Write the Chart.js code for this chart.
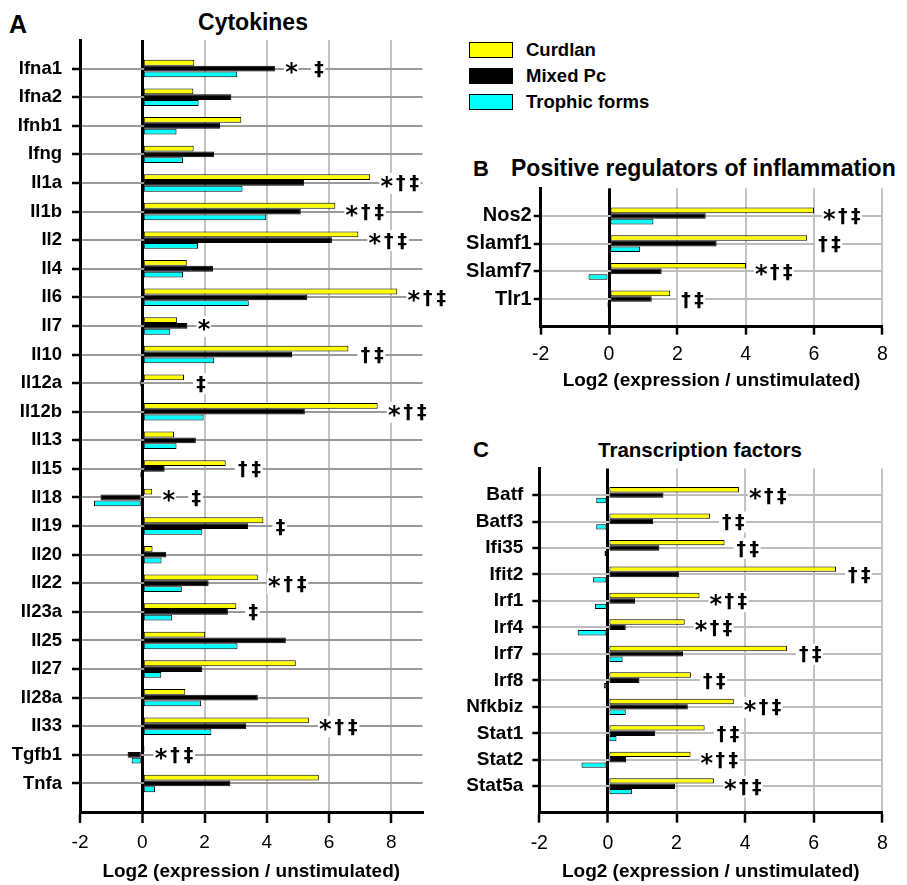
<!DOCTYPE html>
<html><head><meta charset="utf-8">
<script src="https://cdn.jsdelivr.net/npm/chart.js@4.4.1/dist/chart.umd.min.js"></script>
<style>
html,body{margin:0;padding:0;background:#fff;}
body{width:907px;height:885px;position:relative;overflow:hidden;font-family:"Liberation Sans",Arial,Helvetica,sans-serif;}
canvas{position:absolute;}
.t{position:absolute;font-weight:bold;line-height:1;white-space:nowrap;color:#000;}
.leg{position:absolute;box-sizing:border-box;width:44px;height:15.5px;border:1.5px solid #000;}
</style></head><body>
<div class="t" style="left:9px;top:12px;font-size:25px;">A</div>
<div class="t" style="left:153px;top:11px;width:200px;text-align:center;font-size:23px;">Cytokines</div>
<div class="t" style="left:473px;top:158px;font-size:22px;">B</div>
<div class="t" style="left:511px;top:157px;font-size:23px;">Positive regulators of inflammation</div>
<div class="t" style="left:473px;top:439px;font-size:22px;">C</div>
<div class="t" style="left:590px;top:440px;width:220px;text-align:center;font-size:20.5px;">Transcription factors</div>
<div id="legend"></div>
<canvas id="cA" width="465" height="885" style="left:0;top:0"></canvas>
<canvas id="cB" width="467" height="235" style="left:440px;top:160px"></canvas>
<canvas id="cC" width="467" height="445" style="left:440px;top:440px"></canvas>
<script>
// ---------- data ----------
const seriesNames = ['Curdlan', 'Mixed Pc', 'Trophic forms'];
const xTickValues = [-2, 0, 2, 4, 6, 8];
const axisTitle = 'Log2 (expression / unstimulated)';

const cytokineGenes = ['Ifna1','Ifna2','Ifnb1','Ifng','Il1a','Il1b','Il2','Il4','Il6','Il7','Il10','Il12a','Il12b','Il13','Il15','Il18','Il19','Il20','Il22','Il23a','Il25','Il27','Il28a','Il33','Tgfb1','Tnfa'];
const cytokineCurdlan = [1.67,1.64,3.18,1.65,7.32,6.20,6.94,1.43,8.19,1.12,6.62,1.34,7.56,1.02,2.68,0.32,3.89,0.33,3.71,3.02,2.02,4.93,1.38,5.35,0.07,5.67];
const cytokineMixedPc = [4.26,2.86,2.50,2.31,5.20,5.09,6.09,2.27,5.30,1.45,4.81,-0.08,5.22,1.72,0.72,-1.34,3.40,0.77,2.13,2.75,4.61,1.93,3.71,3.34,-0.47,2.83];
const cytokineTrophic = [3.05,1.81,1.10,1.31,3.22,3.98,1.79,1.31,3.42,0.90,2.31,0.03,1.97,1.10,-0.07,-1.55,1.93,0.62,1.27,0.96,3.06,0.61,1.89,2.22,-0.34,0.41];
const cytokineSig = ['* \u2021','','','','*\u2020\u2021','*\u2020\u2021','*\u2020\u2021','','*\u2020\u2021','*','\u2020\u2021','\u2021','*\u2020\u2021','','\u2020\u2021','* \u2021','\u2021','','*\u2020\u2021','\u2021','','','','*\u2020\u2021','*\u2020\u2021',''];

const regulatorGenes = ['Nos2','Slamf1','Slamf7','Tlr1'];
const regulatorCurdlan = [6.00,5.80,4.01,1.79];
const regulatorMixedPc = [2.83,3.15,1.54,1.25];
const regulatorTrophic = [1.30,0.91,-0.60,-0.06];
const regulatorSig = ['*\u2020\u2021','\u2020\u2021','*\u2020\u2021','\u2020\u2021'];

const tfGenes = ['Batf','Batf3','Ifi35','Ifit2','Irf1','Irf4','Irf7','Irf8','Nfkbiz','Stat1','Stat2','Stat5a'];
const tfCurdlan = [3.82,2.98,3.40,6.65,2.67,2.24,5.22,2.42,3.67,2.82,2.41,3.09];
const tfMixedPc = [1.62,1.32,1.50,2.07,0.79,0.52,2.19,0.92,2.33,1.38,0.53,1.96];
const tfTrophic = [-0.34,-0.34,-0.10,-0.44,-0.38,-0.88,0.43,-0.11,0.52,0.25,-0.77,0.70];
const tfSig = ['*\u2020\u2021','\u2020\u2021','\u2020\u2021','\u2020\u2021','*\u2020\u2021','*\u2020\u2021','\u2020\u2021','\u2020\u2021','*\u2020\u2021','\u2020\u2021','*\u2020\u2021','*\u2020\u2021'];

// ---------- styling ----------
const FAMILY = '"Liberation Sans", Arial, Helvetica, sans-serif';
const SYMFAMILY = '"DejaVu Sans", "Liberation Sans", sans-serif';
const seriesColors = ['#ffff00', '#000000', '#00ffff'];
const TRANSPARENT = 'rgba(0,0,0,0)';

// legend (HTML)
(function(){
  const leg = document.getElementById('legend');
  const tops = [42, 68, 94];
  seriesNames.forEach((n, i) => {
    const b = document.createElement('div');
    b.className = 'leg';
    b.style.left = '469px'; b.style.top = tops[i] + 'px'; b.style.background = seriesColors[i];
    leg.appendChild(b);
    const t = document.createElement('div');
    t.className = 't';
    t.style.left = '526px'; t.style.top = (tops[i] - 1.5) + 'px'; t.style.fontSize = '18.5px';
    t.textContent = n;
    leg.appendChild(t);
  });
})();

const sigPlugin = {
  id: 'sig',
  afterDatasetsDraw(chart, args, opts) {
    const {ctx} = chart;
    const x = chart.scales.x, y = chart.scales.y;
    const sig = opts.symbols, vals = opts.values;
    ctx.save();
    const items = [];
    sig.forEach((s, i) => {
      if (!s) return;
      const m = Math.max(0, vals[0][i], vals[1][i], vals[2][i]);
      let px = x.getPixelForValue(m) + opts.gap;
      const cy = y.getPixelForValue(i + 1);
      for (const ch of s) {
        if (ch !== ' ') items.push({ch, px, cy});
        px += opts.pitch;
      }
    });
    ctx.fillStyle = '#fff';
    items.forEach(it => ctx.fillRect(it.px - 1, it.cy - 10, opts.pitch + 1, 21));
    ctx.fillStyle = '#000';
    ctx.textAlign = 'left';
    ctx.textBaseline = 'alphabetic';
    items.forEach(it => {
      const star = it.ch === '*';
      ctx.font = 'bold ' + (star ? opts.starSize : opts.dagSize) + 'px ' + SYMFAMILY;
      const mt = ctx.measureText(it.ch);
      const gw = mt.actualBoundingBoxRight + mt.actualBoundingBoxLeft;
      const base = it.cy + (mt.actualBoundingBoxAscent - mt.actualBoundingBoxDescent) / 2 + (star ? -1 : 1);
      ctx.fillText(it.ch, it.px + (opts.pitch - gw) / 2 + mt.actualBoundingBoxLeft, base);
    });
    ctx.restore();
  }
};

function makePanel(id, genes, cur, mix, tro, sig, cfg) {
  const labels = ['', ...genes, ''];
  const pad = arr => [null, ...arr, null];
  const last = labels.length - 1;
  const datasets = [cur, mix, tro].map((arr, i) => ({
    label: seriesNames[i],
    data: pad(arr),
    backgroundColor: seriesColors[i],
    borderColor: '#000',
    borderWidth: 1,
    borderSkipped: false,
    categoryPercentage: 0.61,
    barPercentage: 1
  }));
  return new Chart(document.getElementById(id), {
    type: 'bar',
    data: {labels, datasets},
    plugins: [sigPlugin],
    options: {
      indexAxis: 'y',
      responsive: false,
      animation: false,
      layout: {padding: cfg.padding},
      plugins: {
        legend: {display: false},
        tooltip: {enabled: false},
        sig: {symbols: sig, values: [cur, mix, tro], gap: cfg.gap, pitch: cfg.pitch, starSize: cfg.starSize, dagSize: cfg.dagSize}
      },
      scales: {
        x: {
          type: 'linear', min: -2, max: cfg.xmax,
          afterBuildTicks: ax => { ax.ticks = xTickValues.map(v => ({value: v})); },
          afterFit: ax => { ax.height = cfg.xh; },
          grid: {
            color: c => c.tick && c.tick.value === 0 ? '#000' : (c.tick && c.tick.value === -2 ? TRANSPARENT : '#c4c4c4'),
            lineWidth: c => c.tick && c.tick.value === 0 ? 3 : 2,
            tickColor: '#000', tickWidth: 2.5, tickLength: cfg.xTickLen
          },
          border: {color: '#000', width: 3},
          ticks: {color: '#000', font: {size: cfg.xTickFont, family: FAMILY}, padding: cfg.xTickPad, maxRotation: 0, autoSkip: false},
          title: {display: true, text: axisTitle, color: '#000', font: {size: 19, weight: 'bold', family: FAMILY}, padding: {top: 0, bottom: cfg.titlePad}}
        },
        y: {
          type: 'category', offset: false,
          afterFit: ax => { ax.width = cfg.yw; },
          grid: {
            offset: false,
            color: c => (c.index === 0 || c.index === last) ? TRANSPARENT : cfg.hGrid,
            lineWidth: 2,
            tickColor: c => (c.index === 0 || c.index === last) ? TRANSPARENT : '#000',
            tickWidth: 2.5, tickLength: cfg.yTickLen
          },
          border: {color: '#000', width: 3},
          ticks: {color: '#000', font: {size: cfg.yFont, weight: 'bold', family: FAMILY}, padding: cfg.yTickPad, autoSkip: false}
        }
      }
    }
  });
}

makePanel('cA', cytokineGenes, cytokineCurdlan, cytokineMixedPc, cytokineTrophic, cytokineSig, {
  padding: {top: 40, right: 42.5, bottom: 0, left: 0}, yw: 80, xh: 73, xmax: 9,
  xTickLen: 11, xTickPad: 8, xTickFont: 19, titlePad: 1.6, yFont: 18.5, yTickLen: 8, yTickPad: 10,
  hGrid: '#9a9a9a', gap: 10, pitch: 13.5, starSize: 24, dagSize: 19
});
makePanel('cB', regulatorGenes, regulatorCurdlan, regulatorMixedPc, regulatorTrophic, regulatorSig, {
  padding: {top: 28.3, right: 24.7, bottom: 0, left: 0}, yw: 100.7, xh: 68.3, xmax: 8,
  xTickLen: 8, xTickPad: 8.4, xTickFont: 19.5, titlePad: 2.6, yFont: 20, yTickLen: 7, yTickPad: 2,
  hGrid: '#bdbdbd', gap: 9, pitch: 13, starSize: 24, dagSize: 19
});
makePanel('cC', tfGenes, tfCurdlan, tfMixedPc, tfTrophic, tfSig, {
  padding: {top: 28.6, right: 24.7, bottom: 0, left: 0}, yw: 99.3, xh: 72.3, xmax: 8,
  xTickLen: 10, xTickPad: 9.2, xTickFont: 19.5, titlePad: 1.6, yFont: 19, yTickLen: 7, yTickPad: 9,
  hGrid: '#bdbdbd', gap: 10, pitch: 13, starSize: 24, dagSize: 19
});
</script>
</body></html>
